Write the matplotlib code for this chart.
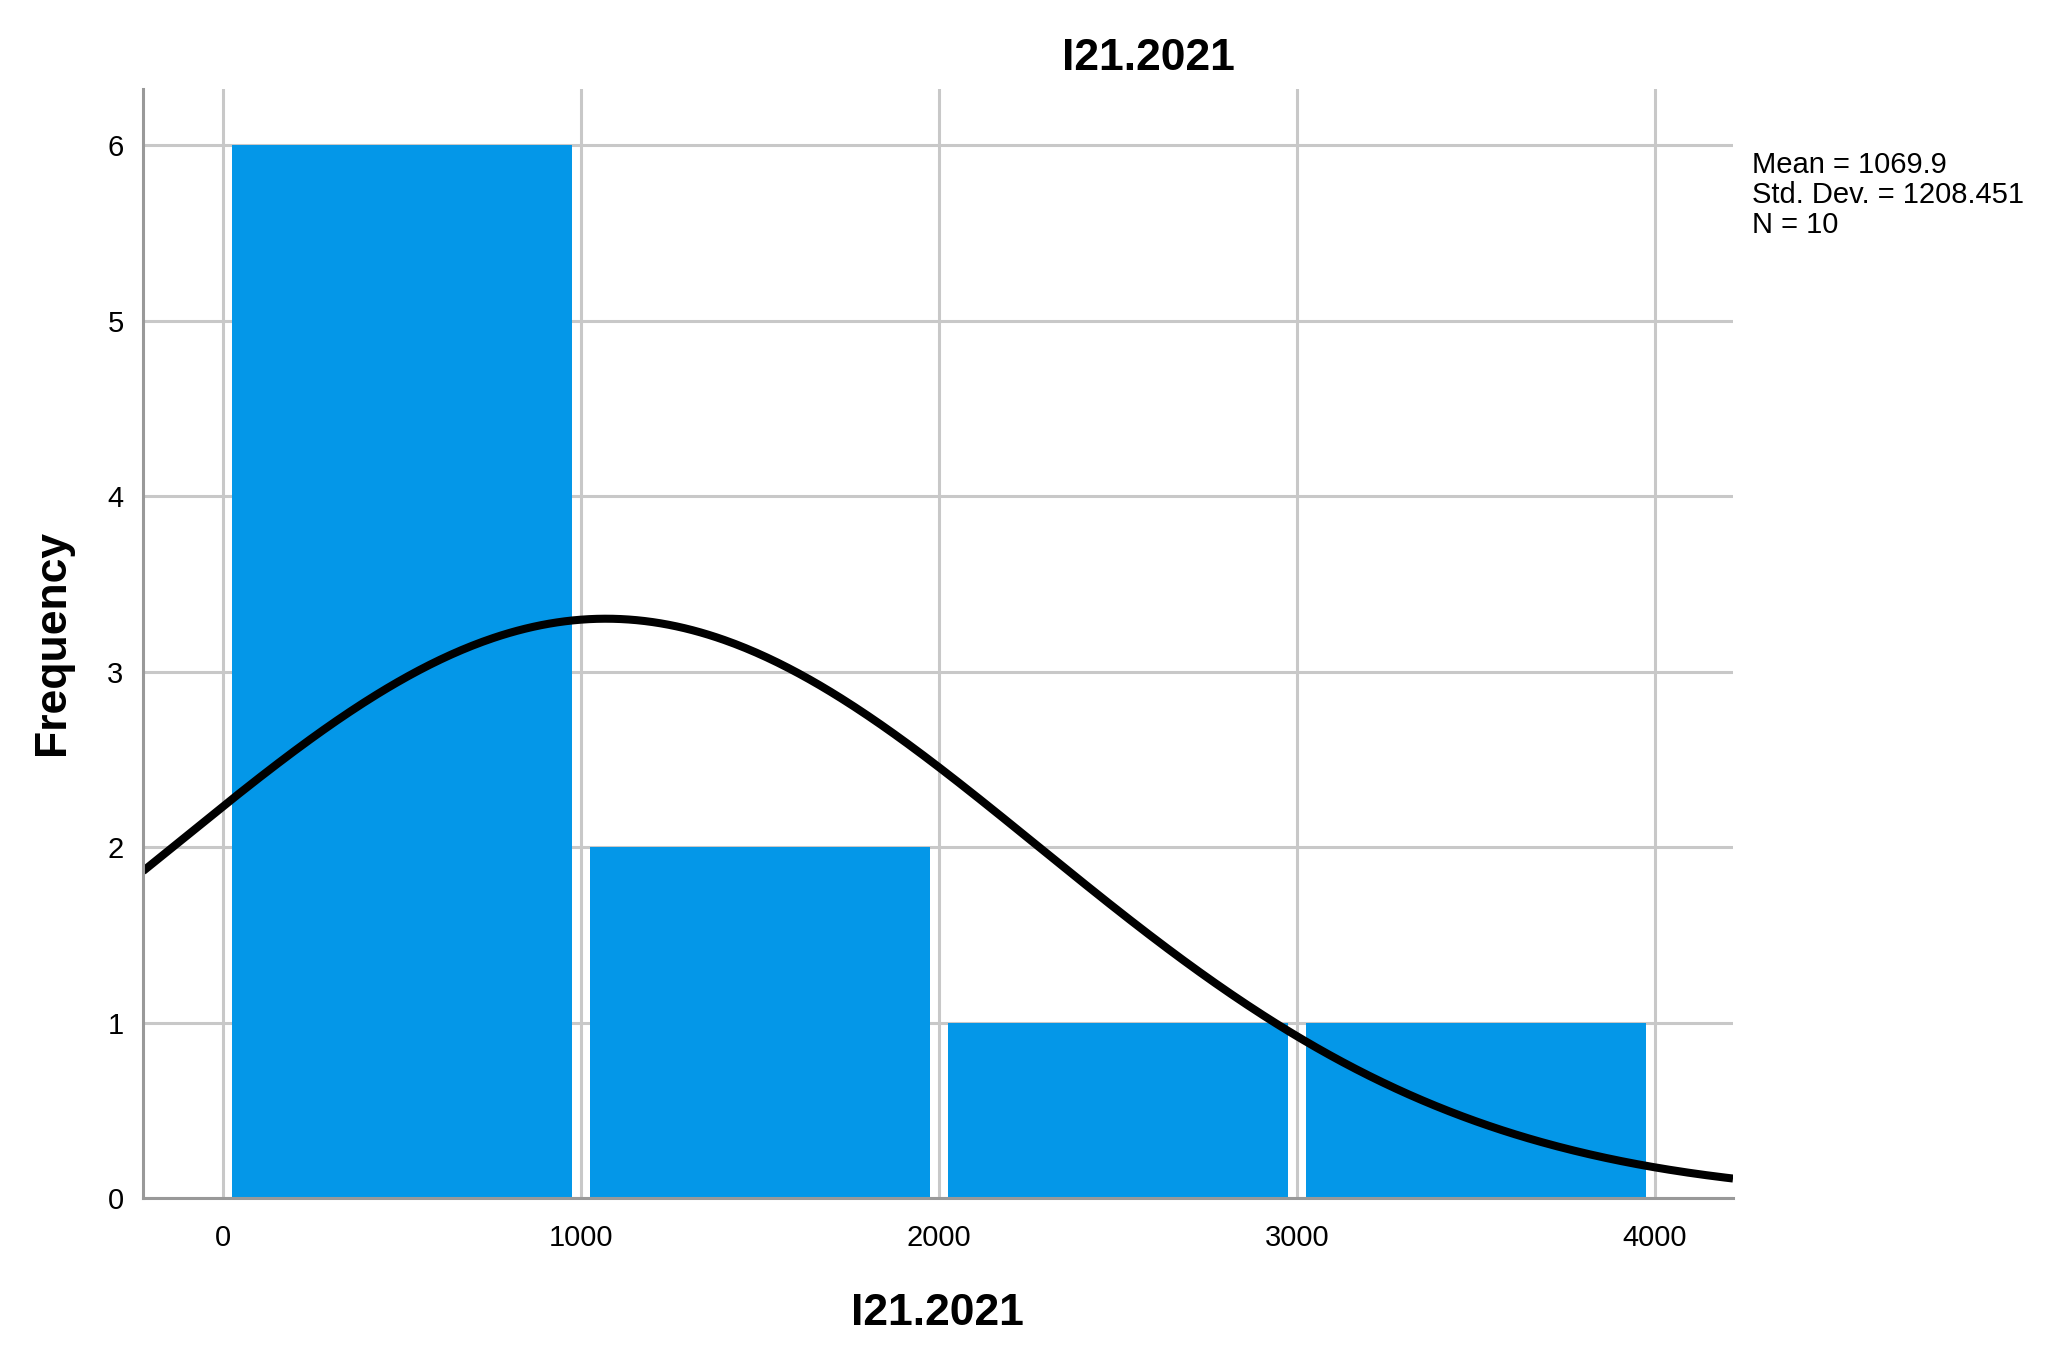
import numpy as np
import matplotlib
matplotlib.use("Agg")
import matplotlib.pyplot as plt

# Data
bin_edges = [0, 1000, 2000, 3000, 4000]
counts = [6, 2, 1, 1]
mean_val = 1069.9
std_val = 1208.451
n_val = 10
x_ticks = [0, 1000, 2000, 3000, 4000]
y_ticks = [0, 1, 2, 3, 4, 5, 6]
title = "I21.2021"
xlabel = "I21.2021"
ylabel = "Frequency"

plt.rcParams['font.family'] = ['Liberation Sans', 'DejaVu Sans']

fig = plt.figure(figsize=(20.46, 13.60), dpi=100)
ax = fig.add_axes([143/2046, 1-1198/1360, (1733-143)/2046, (1198-89)/1360])

bar_color = '#0497e8'
grid_color = '#c8c8c8'
spine_color = '#999999'

widths = np.diff(bin_edges)
lefts = np.array(bin_edges[:-1])
centers = lefts + widths / 2
ax.bar(centers, counts, width=widths * 0.95, color=bar_color, edgecolor='none', zorder=2)

# Normal curve scaled to histogram
xs = np.linspace(-223, 4218, 600)
binw = widths[0]
pdf = np.exp(-0.5 * ((xs - mean_val) / std_val) ** 2) / (std_val * np.sqrt(2 * np.pi))
ax.plot(xs, n_val * binw * pdf, color='black', lw=5.8, zorder=3, solid_capstyle='butt')

ax.set_xlim(-223, 4218)
ax.set_ylim(0, 6.32)
ax.set_xticks(x_ticks)
ax.set_yticks(y_ticks)
ax.tick_params(axis='both', length=0, labelsize=21)
ax.tick_params(axis='x', pad=19)
ax.tick_params(axis='y', pad=14)

ax.grid(True, color=grid_color, lw=2.2, zorder=0)
ax.set_axisbelow(True)
for s in ['top', 'right']:
    ax.spines[s].set_visible(False)
for s in ['left', 'bottom']:
    ax.spines[s].set_color(spine_color)
    ax.spines[s].set_linewidth(2.2)
    ax.spines[s].set_zorder(4)

fig.text(1148/2046, 1-70/1360, title, ha='center', va='baseline', fontsize=32, fontweight='bold')
fig.text(937/2046, 1-1325/1360, xlabel, ha='center', va='baseline', fontsize=32, fontweight='bold')
fig.text(53/2046, 1-642/1360, ylabel, ha='center', va='center', rotation=90, fontsize=32, fontweight='bold')

stats = [f"Mean = {mean_val}", f"Std. Dev. = {std_val}", f"N = {n_val}"]
for i, line in enumerate(stats):
    fig.text(1752/2046, 1-(173 + 30*i)/1360, line, ha='left', va='baseline', fontsize=21)

fig.savefig("out.png", dpi=100)
